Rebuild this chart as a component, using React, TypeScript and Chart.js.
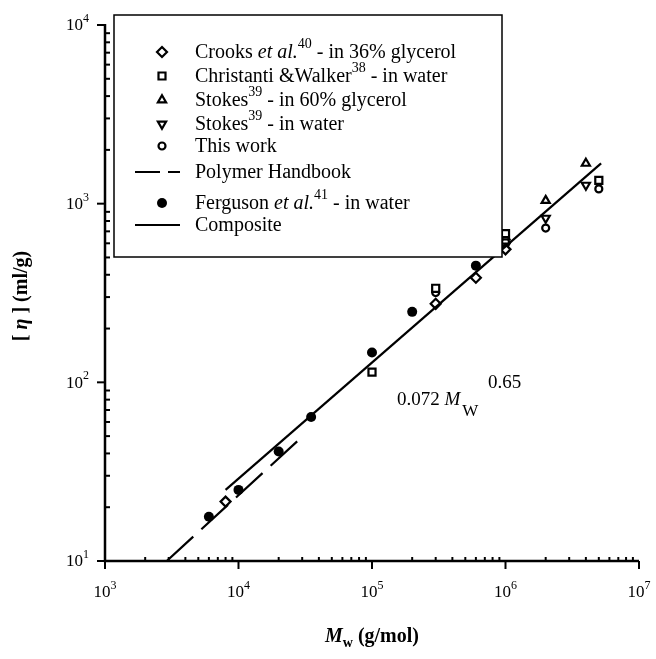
import React, { useEffect, useRef } from 'react';
import { Chart, registerables } from 'chart.js';

Chart.register(...registerables);

// ---- Data ----
const crooks = [
  { x: 8000, y: 21.5 },
  { x: 3e5, y: 275 },
  { x: 6e5, y: 385 },
  { x: 1e6, y: 555 },
];
const christanti = [
  { x: 1e5, y: 114 },
  { x: 3e5, y: 336 },
  { x: 1e6, y: 680 },
  { x: 5e6, y: 1350 },
];
const stokes60 = [
  { x: 1e6, y: 650 },
  { x: 2e6, y: 1040 },
  { x: 4e6, y: 1680 },
];
const stokesWater = [
  { x: 1e6, y: 580 },
  { x: 2e6, y: 830 },
  { x: 4e6, y: 1270 },
];
const thisWork = [
  { x: 3e5, y: 318 },
  { x: 1e6, y: 610 },
  { x: 2e6, y: 730 },
  { x: 5e6, y: 1210 },
];
const polymerHandbook = [
  { x: 2900, y: 10 },
  { x: 30000, y: 49.6 },
];
const ferguson = [
  { x: 6000, y: 17.7 },
  { x: 1e4, y: 25 },
  { x: 2e4, y: 41 },
  { x: 3.5e4, y: 64 },
  { x: 1e5, y: 147 },
  { x: 2e5, y: 248 },
  { x: 6e5, y: 450 },
];
const composite = [
  { x: 8000, y: 25 },
  { x: 5.2e6, y: 1680 },
];

const xExponents = [3, 4, 5, 6, 7];
const yExponents = [1, 2, 3, 4];

const FONT = '"Liberation Serif", "Times New Roman", serif';

type Seg = { t: string; it?: boolean; sup?: boolean; sub?: boolean; b?: boolean };

const legendRows: { segs: Seg[]; marker: string }[] = [
  { segs: [{ t: 'Crooks ' }, { t: 'et al.', it: true }, { t: '40', sup: true }, { t: ' - in 36% glycerol' }], marker: 'diamond' },
  { segs: [{ t: 'Christanti &Walker' }, { t: '38', sup: true }, { t: ' - in water' }], marker: 'square' },
  { segs: [{ t: 'Stokes' }, { t: '39', sup: true }, { t: ' - in 60% glycerol' }], marker: 'triangle' },
  { segs: [{ t: 'Stokes' }, { t: '39', sup: true }, { t: ' - in water' }], marker: 'itriangle' },
  { segs: [{ t: 'This work' }], marker: 'circle' },
  { segs: [{ t: 'Polymer Handbook' }], marker: 'dash' },
  { segs: [{ t: 'Ferguson ' }, { t: 'et al.', it: true }, { t: '41', sup: true }, { t: ' - in water' }], marker: 'filled' },
  { segs: [{ t: 'Composite' }], marker: 'line' },
];
const legendRowY = [52, 76, 100, 124, 146, 172, 203, 225];

function segFont(s: Seg, size: number) {
  const fs = s.sup || s.sub ? Math.round(size * 0.72) : size;
  return `${s.it ? 'italic ' : ''}${s.b ? 'bold ' : ''}${fs}px ${FONT}`;
}
function measureRich(ctx: CanvasRenderingContext2D, segs: Seg[], size: number) {
  let w = 0;
  for (const s of segs) {
    ctx.font = segFont(s, size);
    w += ctx.measureText(s.t).width;
  }
  return w;
}
function drawRich(ctx: CanvasRenderingContext2D, segs: Seg[], x: number, y: number, size: number) {
  let cx = x;
  for (const s of segs) {
    ctx.font = segFont(s, size);
    const dy = s.sup ? -size * 0.42 : s.sub ? size * 0.32 : 0;
    ctx.fillText(s.t, cx, y + dy);
    cx += ctx.measureText(s.t).width;
  }
}

function drawMarker(ctx: CanvasRenderingContext2D, kind: string, x: number, y: number) {
  ctx.save();
  ctx.strokeStyle = '#000';
  ctx.fillStyle = '#fff';
  ctx.lineWidth = 2.2;
  ctx.beginPath();
  if (kind === 'diamond') {
    ctx.moveTo(x, y - 5); ctx.lineTo(x + 5, y); ctx.lineTo(x, y + 5); ctx.lineTo(x - 5, y); ctx.closePath();
    ctx.fill(); ctx.stroke();
  } else if (kind === 'square') {
    ctx.rect(x - 3.5, y - 3.5, 7, 7); ctx.fill(); ctx.stroke();
  } else if (kind === 'triangle') {
    ctx.moveTo(x, y - 4.7); ctx.lineTo(x + 4.1, y + 2.4); ctx.lineTo(x - 4.1, y + 2.4); ctx.closePath();
    ctx.fill(); ctx.stroke();
  } else if (kind === 'itriangle') {
    ctx.moveTo(x, y + 4.7); ctx.lineTo(x + 4.1, y - 2.4); ctx.lineTo(x - 4.1, y - 2.4); ctx.closePath();
    ctx.fill(); ctx.stroke();
  } else if (kind === 'circle') {
    ctx.arc(x, y, 3.5, 0, Math.PI * 2); ctx.fill(); ctx.stroke();
  } else if (kind === 'filled') {
    ctx.fillStyle = '#000';
    ctx.arc(x, y, 5, 0, Math.PI * 2); ctx.fill();
  } else if (kind === 'dash') {
    ctx.setLineDash([25, 8]);
    ctx.moveTo(135, y); ctx.lineTo(180, y); ctx.stroke();
  } else if (kind === 'line') {
    ctx.moveTo(135, y); ctx.lineTo(180, y); ctx.stroke();
  }
  ctx.restore();
}

const decorPlugin = {
  id: 'decor',
  afterDraw(chart: any) {
    const ctx: CanvasRenderingContext2D = chart.ctx;
    const xs = chart.scales.x;
    const ys = chart.scales.y;
    const { left, right, top, bottom } = chart.chartArea;
    ctx.save();
    ctx.strokeStyle = '#000';
    ctx.fillStyle = '#000';

    // axis lines
    ctx.lineWidth = 2.5;
    ctx.beginPath();
    ctx.moveTo(left, top - 1);
    ctx.lineTo(left, bottom);
    ctx.lineTo(right, bottom);
    ctx.stroke();

    // y ticks
    ctx.lineWidth = 2;
    for (const e of yExponents) {
      const py = ys.getPixelForValue(Math.pow(10, e));
      ctx.beginPath(); ctx.moveTo(left - 8, py); ctx.lineTo(left, py); ctx.stroke();
      if (e < 4) {
        for (let m = 2; m <= 9; m++) {
          const my = ys.getPixelForValue(m * Math.pow(10, e));
          ctx.beginPath(); ctx.moveTo(left, my); ctx.lineTo(left + 5, my); ctx.stroke();
        }
      }
    }
    // x ticks
    for (const e of xExponents) {
      const px = xs.getPixelForValue(Math.pow(10, e));
      ctx.beginPath(); ctx.moveTo(px, bottom); ctx.lineTo(px, bottom + 8); ctx.stroke();
      if (e < 7) {
        for (let m = 2; m <= 9; m++) {
          const mx = xs.getPixelForValue(m * Math.pow(10, e));
          ctx.beginPath(); ctx.moveTo(mx, bottom); ctx.lineTo(mx, bottom - 4); ctx.stroke();
        }
      }
    }

    // tick labels
    ctx.textBaseline = 'middle';
    for (const e of yExponents) {
      const py = ys.getPixelForValue(Math.pow(10, e));
      const segs: Seg[] = [{ t: '10' }, { t: String(e), sup: true }];
      const w = measureRich(ctx, segs, 17);
      drawRich(ctx, segs, 89 - w, py + 1, 17);
    }
    for (const e of xExponents) {
      const px = xs.getPixelForValue(Math.pow(10, e));
      const segs: Seg[] = [{ t: '10' }, { t: String(e), sup: true }];
      const w = measureRich(ctx, segs, 17);
      drawRich(ctx, segs, px - w / 2, bottom + 32, 17);
    }

    // axis titles
    const xt: Seg[] = [{ t: 'M', it: true, b: true }, { t: 'w', sub: true, b: true }, { t: ' (g/mol)', b: true }];
    const xtw = measureRich(ctx, xt, 20);
    drawRich(ctx, xt, 372 - xtw / 2, 637, 20);

    const yt: Seg[] = [{ t: '[ ', b: true }, { t: 'η', it: true, b: true }, { t: ' ] (ml/g)', b: true }];
    ctx.save();
    ctx.translate(22, 296);
    ctx.rotate(-Math.PI / 2);
    const ytw = measureRich(ctx, yt, 20);
    drawRich(ctx, yt, -ytw / 2, 0, 20);
    ctx.restore();

    // annotation
    const ann: Seg[] = [{ t: '0.072 ' }, { t: 'M', it: true }];
    drawRich(ctx, ann, 397, 400, 19);
    const aw = measureRich(ctx, ann, 19);
    ctx.font = `17px ${FONT}`;
    ctx.fillText('W', 397 + aw + 2, 412);
    ctx.font = `19px ${FONT}`;
    ctx.fillText('0.65', 488, 383);

    // legend box
    ctx.fillStyle = '#fff';
    ctx.fillRect(114, 15, 388, 242);
    ctx.lineWidth = 1.5;
    ctx.strokeRect(114, 15, 388, 242);
    ctx.fillStyle = '#000';
    legendRows.forEach((row, i) => {
      const y = legendRowY[i];
      drawMarker(ctx, row.marker, 162, y);
      ctx.fillStyle = '#000';
      ctx.textBaseline = 'middle';
      drawRich(ctx, row.segs, 195, y + 1, 20);
    });

    ctx.restore();
  },
};

export default function App() {
  const ref = useRef<HTMLCanvasElement | null>(null);
  useEffect(() => {
    if (!ref.current) return;
    const open = (data: any, style: string, r: number, rot = 0) => ({
      type: 'scatter' as const,
      data,
      pointStyle: style,
      pointRadius: r,
      pointRotation: rot,
      pointBorderWidth: 2.2,
      pointBorderColor: '#000',
      pointBackgroundColor: '#fff',
      showLine: false,
    });
    const chart = new Chart(ref.current, {
      type: 'scatter',
      data: {
        datasets: [
          {
            type: 'line',
            data: polymerHandbook,
            borderColor: '#000',
            borderWidth: 2.2,
            borderDash: [36, 11],
            pointRadius: 0,
            fill: false,
          } as any,
          {
            type: 'line',
            data: composite,
            borderColor: '#000',
            borderWidth: 2.2,
            pointRadius: 0,
            fill: false,
          } as any,
          open(crooks, 'rectRot', 5),
          open(christanti, 'rect', 5),
          open(stokes60, 'triangle', 4.7),
          open(stokesWater, 'triangle', 4.7, 180),
          open(thisWork, 'circle', 3.5),
          {
            type: 'scatter',
            data: ferguson,
            pointStyle: 'circle',
            pointRadius: 5,
            pointBorderWidth: 0,
            pointBackgroundColor: '#000',
            pointBorderColor: '#000',
          } as any,
        ],
      },
      options: {
        animation: false,
        responsive: true,
        maintainAspectRatio: false,
        layout: { padding: { left: 105, top: 25, right: 17, bottom: 98 } },
        plugins: { legend: { display: false }, tooltip: { enabled: false } },
        scales: {
          x: { type: 'logarithmic', min: 1e3, max: 1e7, display: false },
          y: { type: 'logarithmic', min: 10, max: 1e4, display: false },
        },
      },
      plugins: [decorPlugin],
    });
    return () => chart.destroy();
  }, []);
  return (
    <div style={{ position: 'fixed', left: 0, top: 0, width: 656, height: 659, background: '#fff' }}>
      <canvas ref={ref} />
    </div>
  );
}
